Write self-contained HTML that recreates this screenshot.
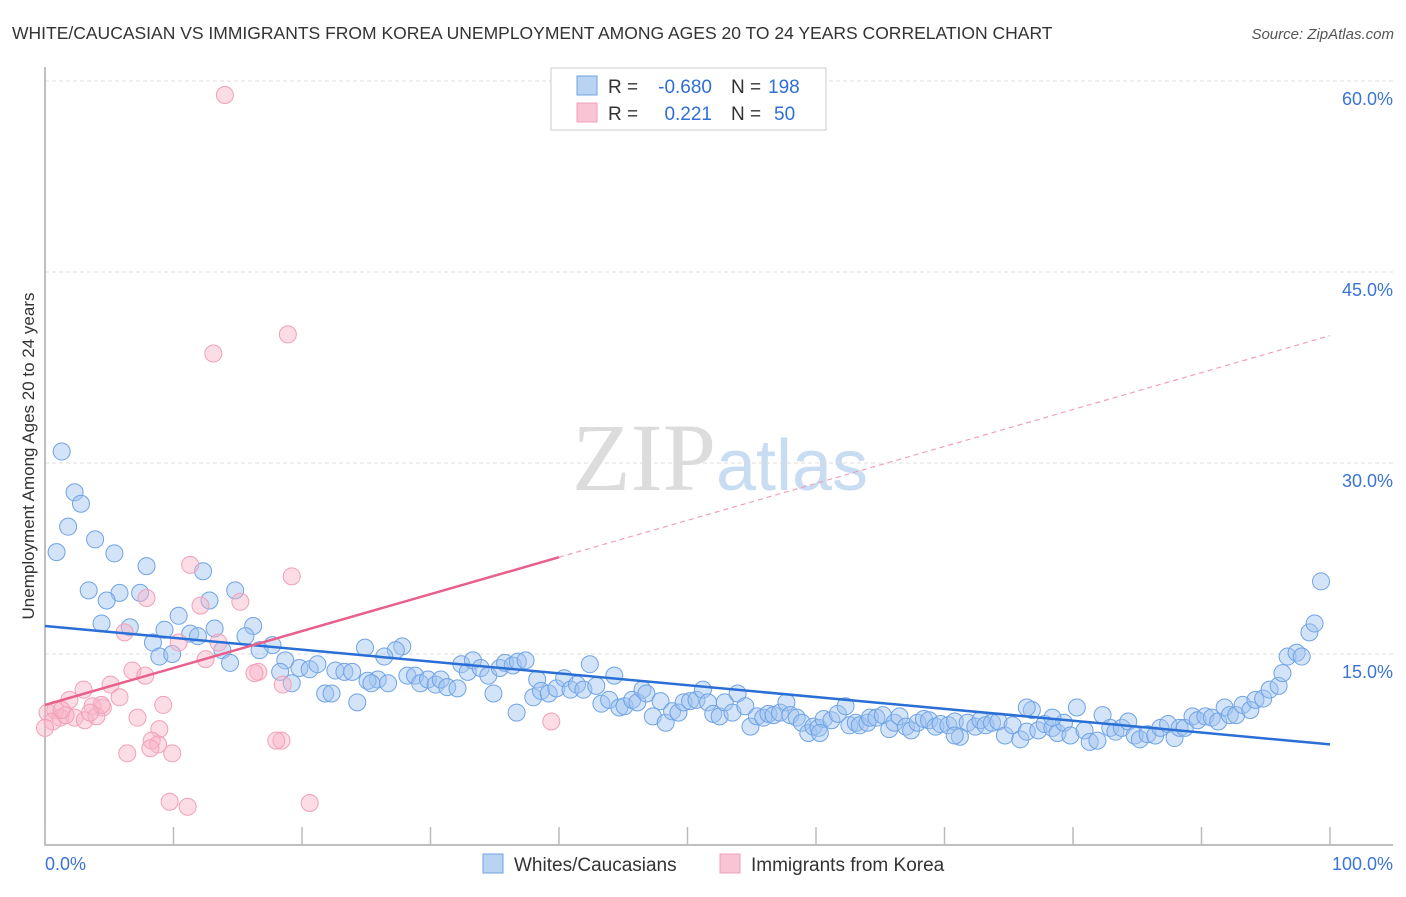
<!DOCTYPE html>
<html><head><meta charset="utf-8"><style>
body{margin:0;background:#fff;font-family:"Liberation Sans",sans-serif;}
</style></head><body>
<svg id="chart" width="1406" height="892" xmlns="http://www.w3.org/2000/svg" font-family="Liberation Sans, sans-serif">
<text x="12" y="39" font-size="17.5" fill="#333">WHITE/CAUCASIAN VS IMMIGRANTS FROM KOREA UNEMPLOYMENT AMONG AGES 20 TO 24 YEARS CORRELATION CHART</text>
<text x="1394" y="39" font-size="15" fill="#555" text-anchor="end" font-style="italic">Source: ZipAtlas.com</text>
<text x="720" y="490" font-size="96" text-anchor="middle" fill="#dcdcdc" font-family="Liberation Serif, serif">ZIP<tspan fill="#c8dcf2" font-family="Liberation Sans, sans-serif" font-size="72">atlas</tspan></text>
<text transform="translate(34,456) rotate(-90)" font-size="17" fill="#333" text-anchor="middle">Unemployment Among Ages 20 to 24 years</text>
<g id="grid"></g><g id="axes"></g><g id="pts"></g><g id="lines"></g>
<g font-size="19">
<rect x="551" y="68" width="275" height="62" fill="#fff" stroke="#ccc"/>
<rect x="577" y="76" width="20" height="19" fill="#b9d3f3" stroke="#6fa3e6"/>
<rect x="577" y="103" width="20" height="19" fill="#f9c5d4" stroke="#f0a0b8"/>
<text x="608" y="93" fill="#333">R =</text>
<text x="712" y="93" fill="#2f6fd6" text-anchor="end">-0.680</text>
<text x="731" y="93" fill="#333">N =</text>
<text x="768" y="93" fill="#2f6fd6">198</text>
<text x="608" y="120" fill="#333">R =</text>
<text x="712" y="120" fill="#2f6fd6" text-anchor="end">0.221</text>
<text x="731" y="120" fill="#333">N =</text>
<text x="774" y="120" fill="#2f6fd6">50</text>
</g>
<g>
<rect x="483" y="854" width="20" height="19" fill="#b9d3f3" stroke="#6fa3e6"/>
<text x="514" y="871" font-size="19" fill="#333">Whites/Caucasians</text>
<rect x="720" y="854" width="20" height="19" fill="#f9c5d4" stroke="#f0a0b8"/>
<text x="751" y="871" font-size="19" fill="#333">Immigrants from Korea</text>
</g>
</svg>
<script>
const blueX=[1.3,2.3,2.8,1.8,3.9,0.9,5.4,7.9,12.3,3.4,5.8,4.8,7.4,14.8,12.8,10.4,16.2,4.4,6.6,9.3,11.3,13.2,15.6,17.7,8.4,8.9,9.9,13.8,11.9,14.4,16.7,18.7,19.8,20.6,21.2,18.3,19.2,22.6,23.3,23.9,24.9,25.9,26.7,27.8,27.3,26.4,21.8,22.3,24.3,25.1,25.4,28.2,28.8,29.2,29.8,30.4,30.8,31.3,32.1,32.4,32.9,33.3,33.9,34.5,34.9,35.4,35.8,36.4,36.8,37.4,36.7,38.0,38.3,38.6,39.2,39.8,40.4,40.9,41.4,41.9,42.4,42.9,43.3,43.9,44.3,44.7,45.1,45.7,46.1,46.5,46.8,47.3,47.9,48.3,48.8,49.3,49.7,50.2,50.7,51.2,51.6,52.0,52.5,52.9,53.5,53.9,54.5,54.9,55.4,55.9,56.3,56.7,57.2,57.7,58.0,58.5,58.9,59.4,59.8,60.2,60.6,61.2,61.7,62.3,62.6,63.1,63.4,64.0,64.2,64.7,65.2,65.7,66.1,66.5,67.0,67.4,67.9,68.4,68.8,69.3,69.7,70.3,70.8,71.2,71.8,72.4,72.8,73.2,73.7,74.2,74.7,75.3,75.9,76.4,76.8,77.3,77.8,78.4,78.8,79.3,79.8,80.3,80.9,81.3,81.9,82.3,82.9,83.3,83.8,84.3,84.8,85.2,85.8,86.4,86.8,87.4,87.9,88.3,88.7,89.3,89.7,90.3,90.8,91.3,91.8,92.2,92.7,93.2,93.8,94.2,94.8,95.3,96.0,96.3,96.7,97.4,97.8,98.4,98.8,99.3,76.4,78.4,70.8,60.3];
const blueY=[30.9,27.7,26.8,25.0,24.0,23.0,22.9,21.9,21.5,20.0,19.8,19.2,19.8,20.0,19.2,18.0,17.2,17.4,17.1,16.9,16.6,17.0,16.4,15.7,15.9,14.8,15.0,15.3,16.4,14.3,15.3,14.5,13.9,13.8,14.2,13.6,12.7,13.7,13.6,13.6,15.5,13.0,12.7,15.6,15.3,14.8,11.9,11.9,11.2,12.9,12.7,13.3,13.3,12.7,13.0,12.6,13.0,12.4,12.3,14.2,13.6,14.5,13.9,13.3,11.9,13.9,14.3,14.1,14.4,14.5,10.4,11.6,13.0,12.1,11.9,12.3,13.1,12.2,12.6,12.2,14.2,12.5,11.1,11.4,13.3,10.8,10.9,11.4,11.2,12.2,11.9,10.1,11.3,9.6,10.5,10.4,11.2,11.3,11.4,12.2,11.2,10.3,10.1,11.2,10.4,11.9,10.9,9.3,10.1,10.0,10.3,10.2,10.4,11.2,10.2,10.0,9.6,8.8,9.3,9.2,9.9,9.8,10.3,10.9,9.4,9.6,9.4,9.6,10.0,10.0,10.2,9.1,9.6,10.1,9.3,9.0,9.6,9.9,9.8,9.3,9.5,9.4,9.7,8.5,9.6,9.3,9.8,9.4,9.6,9.7,8.6,9.4,8.3,8.9,10.6,9.0,9.5,9.2,8.8,9.6,8.6,10.8,9.0,8.1,8.2,10.2,9.2,8.9,9.2,9.7,8.6,8.3,8.7,8.6,9.2,9.5,8.4,9.2,9.2,10.1,9.8,10.1,10.0,9.7,10.8,10.2,10.2,11.0,10.6,11.4,11.5,12.2,12.5,13.5,14.8,15.1,14.8,16.7,17.4,20.7,10.8,10.0,8.6,8.8];
const pinkX=[14.0,18.9,13.1,11.3,19.2,7.9,15.2,12.1,6.2,10.4,13.5,16.6,6.8,12.5,7.8,5.1,3.0,5.8,1.9,3.7,4.5,9.2,0.8,0.2,1.2,2.3,3.1,0.6,7.2,4.0,8.9,8.3,8.8,6.4,9.9,8.2,18.4,18.0,39.4,9.7,11.1,20.6,18.5,0.0,1.6,4.4,16.3,1.3,3.5];
const pinkY=[58.9,40.1,38.6,22.0,21.1,19.4,19.1,18.8,16.7,15.9,15.9,13.6,13.7,14.6,13.3,12.6,12.2,11.6,11.4,10.9,10.8,11.0,10.6,10.4,10.0,10.0,9.8,9.7,10.0,10.1,9.1,8.2,7.9,7.2,7.2,7.6,8.2,8.2,9.7,3.4,3.0,3.3,12.6,9.2,10.2,11.0,13.5,10.6,10.4];
const yTicks=[15,30,45,60];
const xTicks=[0,10,20,30,40,50,60,70,80,90,100];
const blueTrend=[17.2,7.9];
const pinkTrend=[11.0,40.0];
const pinkSolidEnd=40;
const NS="http://www.w3.org/2000/svg";
const X=v=>45+v*12.85, Y=v=>845-v*12.733;
function mk(t,a,p){const e=document.createElementNS(NS,t);for(const k in a)e.setAttribute(k,a[k]);p.appendChild(e);return e;}
const grid=document.getElementById('grid'),axes=document.getElementById('axes'),pts=document.getElementById('pts'),lines=document.getElementById('lines');
yTicks.forEach(v=>{
 const l=mk('line',{x1:45,x2:1393,y1:Y(v),y2:Y(v),stroke:'#ddd','stroke-dasharray':'4,3'},grid);
 
 
 const t=mk('text',{x:1393,y:Y(v)+24,'font-size':18,fill:'#3a74d4','text-anchor':'end'},axes);t.textContent=v.toFixed(1)+'%';
 
 
});
const ax=mk('path',{d:'M45,67V845H1393',fill:'none',stroke:'#aaa','stroke-width':1.5},axes);


xTicks.forEach(v=>{
 const l=mk('line',{x1:X(v),x2:X(v),y1:827,y2:845,stroke:'#bbb','stroke-width':1.5},axes);
 
 
});
[[0,'0.0%','start',45],[100,'100.0%','end',1393]].forEach(a=>{
 const t=mk('text',{x:a[3],y:870,'font-size':18,fill:'#3a74d4','text-anchor':a[2]},axes);t.textContent=a[1];
 
 
});
blueX.forEach((x,i)=>{
 const c=mk('circle',{cx:X(x),cy:Y(blueY[i]),r:8.5,fill:'rgba(160,196,240,0.45)',stroke:'#6fa3e6','stroke-width':1},pts);
 
 
});
pinkX.forEach((x,i)=>{
 const c=mk('circle',{cx:X(x),cy:Y(pinkY[i]),r:8.5,fill:'rgba(248,180,200,0.45)',stroke:'#f0a0b8','stroke-width':1},pts);
 
 
});
const bl=mk('line',{x1:X(0),y1:Y(blueTrend[0]),x2:X(100),y2:Y(blueTrend[1]),stroke:'#2a6fd6','stroke-width':2.5},lines);


const py=v=>pinkTrend[0]+(pinkTrend[1]-pinkTrend[0])*v/100;
const ps=mk('line',{x1:X(0),y1:Y(py(0)),x2:X(pinkSolidEnd),y2:Y(py(pinkSolidEnd)),stroke:'#e8608a','stroke-width':2.5},lines);


const pd=mk('line',{x1:X(pinkSolidEnd),y1:Y(py(pinkSolidEnd)),x2:X(100),y2:Y(py(100)),stroke:'#f0a0b8','stroke-width':1.2,'stroke-dasharray':'5,4'},lines);


</script>
</body></html>
